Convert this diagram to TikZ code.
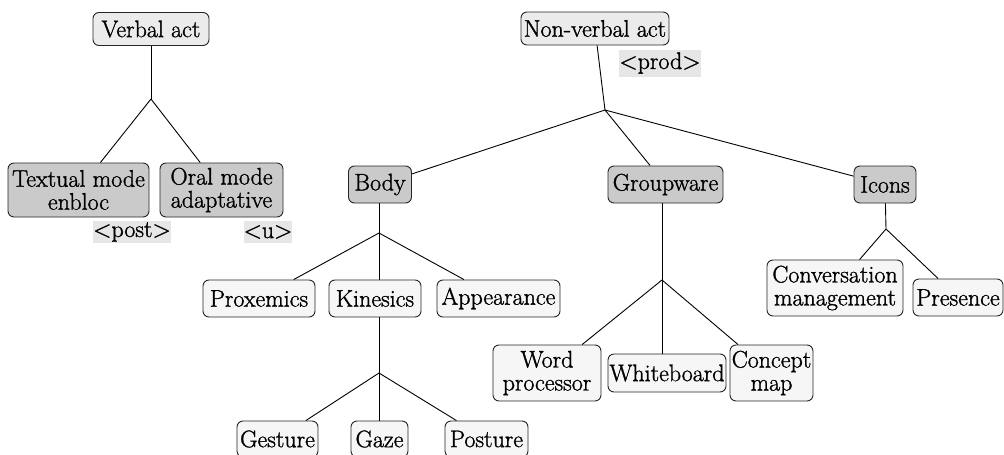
\documentclass[tikz,border=0pt]{standalone}
\usepackage{fontspec}
\newfontfamily\diagfont{Latin Modern Roman}[FakeBold=1.2]
\definecolor{rootfill}{HTML}{EBEBEB}
\definecolor{midfill}{HTML}{CACACA}
\definecolor{leaffill}{HTML}{F6F6F6}
\definecolor{tagfill}{HTML}{E6E6E6}
\definecolor{edgecol}{HTML}{262626}
\begin{document}
\begin{tikzpicture}[x=1pt,y=-1pt,
  every node/.style={font=\diagfont\fontsize{24}{23}\selectfont, inner sep=0.5pt, align=center},
  box/.style={draw=edgecol, line width=0.9pt, rounded corners=6pt},
  rootbox/.style={box, fill=rootfill},
  midbox/.style={box, fill=midfill},
  leafbox/.style={box, fill=leaffill},
  tag/.style={fill=tagfill, inner sep=0pt},
  link/.style={draw=black, line width=0.9pt}]
\useasboundingbox (0,0) rectangle (1004,455);

% Verbal act branch
\node[rootbox, minimum width=116, minimum height=33] (verbal) at (151,29) {Verbal act};
\coordinate (vj) at (151,99);
\node[midbox, minimum width=141, minimum height=54] (textual) at (78.5,190) {Textual mode\\enbloc};
\node[midbox, minimum width=123, minimum height=54] (oral) at (221.5,190) {Oral mode\\adaptative};
\node[tag, minimum width=62, minimum height=22] (post) at (132,232) {<post>};
\node[tag, minimum width=47, minimum height=22] (u) at (268,232) {<u>};

% Non-verbal act branch
\node[rootbox, minimum width=148, minimum height=33] (nonverbal) at (595,28.5) {Non-verbal act};
\node[tag, minimum width=75, minimum height=27] (prod) at (660,63) {<prod>};
\coordinate (nj) at (605,110);
\node[midbox, minimum width=63, minimum height=37] (body) at (380,184.5) {Body};
\node[midbox, minimum width=115, minimum height=37] (groupware) at (665.5,184.5) {Groupware};
\node[midbox, minimum width=62, minimum height=37] (icons) at (885,184.5) {Icons};

% Body
\coordinate (bj) at (379,233);
\node[leafbox, minimum width=112, minimum height=37] (proxemics) at (259,298.5) {Proxemics};
\node[leafbox, minimum width=92, minimum height=37] (kinesics) at (375,298.5) {Kinesics};
\node[leafbox, minimum width=123, minimum height=37] (appearance) at (498.5,298.5) {Appearance};
\coordinate (kj) at (379,373);
\node[leafbox, minimum width=81, minimum height=36] (gesture) at (277.5,439) {Gesture};
\node[leafbox, minimum width=57, minimum height=36] (gaze) at (379.5,439) {Gaze};
\node[leafbox, minimum width=83, minimum height=36] (posture) at (486.5,439) {Posture};

% Groupware
\coordinate (gj) at (662,280);
\node[leafbox, minimum width=108, minimum height=56] (word) at (547,373) {Word\\processor};
\node[leafbox, minimum width=118, minimum height=38] (whiteboard) at (667,373) {Whiteboard};
\node[leafbox, minimum width=83, minimum height=56] (concept) at (771.5,373) {Concept\\map};

% Icons
\coordinate (ij) at (886,229);
\node[leafbox, minimum width=136, minimum height=56] (conversation) at (835,288) {Conversation\\management};
\node[leafbox, minimum width=90, minimum height=37] (presence) at (958,297.5) {Presence};

% connectors
\draw[link] (verbal) -- (vj);
\draw[link] (vj) -- (textual);
\draw[link] (vj) -- (oral);

\draw[link] (nonverbal) -- (nj);
\draw[link] (nj) -- (body);
\draw[link] (nj) -- (groupware);
\draw[link] (nj) -- (icons);

\draw[link] (bj |- body.south) -- (bj);
\draw[link] (bj) -- (proxemics);
\draw[link] (bj) -- (bj |- kinesics.north);
\draw[link] (bj) -- (appearance);
\draw[link] (kj |- kinesics.south) -- (kj);
\draw[link] (kj) -- (gesture);
\draw[link] (kj) -- (kj |- gaze.north);
\draw[link] (kj) -- (posture);

\draw[link] (gj |- groupware.south) -- (gj);
\draw[link] (gj) -- (word);
\draw[link] (gj) -- (gj |- whiteboard.north);
\draw[link] (gj) -- (concept);

\draw[link] (icons) -- (ij);
\draw[link] (ij) -- (conversation);
\draw[link] (ij) -- (presence);
\end{tikzpicture}
\end{document}
